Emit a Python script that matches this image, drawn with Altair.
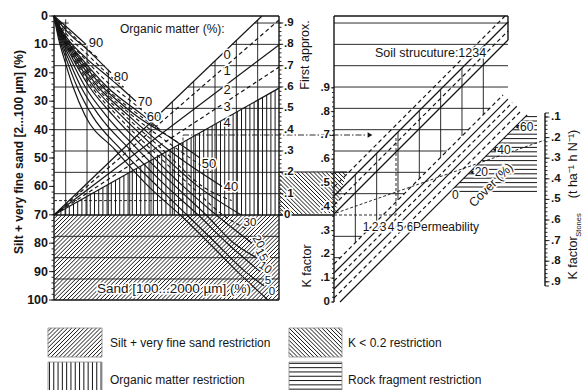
import math
import numpy as np
import pandas as pd
import altair as alt

SILT_TICKS = [0, 10, 20, 30, 40, 50, 60, 70, 80, 90, 100]
FIRST_APPROX_TICKS = [0.0, 0.1, 0.2, 0.3, 0.4, 0.5, 0.6, 0.7, 0.8, 0.9]
K_TICKS = [0.0, 0.1, 0.2, 0.3, 0.4, 0.5, 0.6, 0.7, 0.8, 0.9]
K_STONES_TICKS = [0.1, 0.2, 0.3, 0.4, 0.5, 0.6, 0.7, 0.8, 0.9]
COVER_TICKS = [0, 20, 40, 60]
OM_CLASSES = [0, 1, 2, 3, 4]
OM_END_U = [92.4, 100.0, 100.0, 100.0, 100.0]       # where each organic-matter line leaves the panel
OM_END_SILT = [0.0, 1.4, 10.2, 18.0, 25.4]
STRUCTURE_CLASSES = [1, 2, 3, 4]
PERMEABILITY_CLASSES = [1, 2, 3, 4, 5, 6]
SAND_LABELLED = [90, 80, 70, 60, 50, 40, 30, 20, 15, 10, 5, 0]

# sand curves: horizontal position (0..100 across the left panel) versus silt + vfs (%)
SAND_U = {
    90: [0, 6.5, 14.2],
    85: [0, 6.5, 12.5, 19.8],
    80: [0, 6.5, 15, 25.3],
    75: [0, 6.2, 14.8, 22, 30.9],
    70: [0, 6, 14.5, 25, 36.4],
    65: [0, 5.7, 13.6, 24, 35, 41.8],
    60: [0, 5.3, 12.3, 23.6, 39.6, 47.1],
    55: [0, 5.1, 11.8, 22.6, 38, 46.7, 56],
    50: [0, 4.9, 11.3, 21.7, 36.4, 52, 64.9],
    45: [0, 4.6, 10.8, 20.7, 34.7, 51.5, 69.8],
    40: [0, 4.4, 10.3, 19.7, 33, 51, 74.7],
    35: [0, 4.2, 9.8, 18.8, 31.4, 48.5, 66, 79],
    30: [0, 4, 9.3, 17.8, 29.8, 46, 64, 83.1],
    25: [0, 3.8, 8.8, 16.8, 28, 43.5, 61, 75, 85.6],
    20: [0, 3.6, 8.3, 15.8, 26.2, 41, 57.5, 72, 88],
    15: [0, 3.2, 7.3, 13.9, 23.1, 37.5, 54, 67.5, 80, 89.8],
    10: [0, 2.8, 6.3, 12, 20, 34, 50, 64, 77, 91.6],
    5: [0, 2.4, 5.4, 10.3, 16.9, 30, 46, 59, 72, 85, 93.3],
    0: [0, 2, 4.5, 8.5, 13.8, 27, 42, 56, 69, 81.5, 95.1],
}
SAND_SILT = {
    90: [0, 4.5, 10],
    85: [0, 5.3, 10, 15],
    80: [0, 6, 12, 20],
    75: [0, 7, 13.5, 19, 25],
    70: [0, 8, 15, 22, 30],
    65: [0, 8, 15, 23.5, 30.5, 35],
    60: [0, 8, 15, 25, 35, 40],
    55: [0, 8, 15, 25, 35, 40, 45],
    50: [0, 8, 15, 25, 35, 43, 50],
    45: [0, 8, 15, 25, 35, 45, 55],
    40: [0, 8, 15, 25, 35, 47.2, 60],
    35: [0, 8, 15, 25, 35, 47.2, 60, 65],
    30: [0, 8, 15, 25, 35, 47.2, 60, 70],
    25: [0, 8, 15, 25, 35, 47.2, 60, 70, 75],
    20: [0, 8, 15, 25, 35, 47.2, 60, 70, 80],
    15: [0, 8, 15, 25, 35, 47.2, 60, 70, 80, 85],
    10: [0, 8, 15, 25, 35, 47.2, 60, 70, 80, 90],
    5: [0, 8, 15, 25, 35, 47.2, 60, 70, 80, 90, 95],
    0: [0, 8, 15, 25, 35, 47, 60, 70, 80, 90, 100],
}

# ================= layout of the printed sheet (pixels) =================
LEFT, RIGHT, TOP, BOTTOM = 54.0, 279.0, 16.0, 300.0
def U(px): return (px - LEFT) / (RIGHT - LEFT) * 100.0
def S(py): return (py - TOP) / (BOTTOM - TOP) * 100.0
def PX(u): return LEFT + u * (RIGHT - LEFT) / 100.0
def PY(s): return TOP + s * (BOTTOM - TOP) / 100.0
def fa_py(v): return 215.0 - 213.3 * v
def k_py(v): return 302.0 - 238.0 * v
def ks_py(v): return 117.0 + 206.0 * (v - 0.1)
def cover_py(v): return 195.0 - 1.133 * v

KAX, BOXR, STAX = 334.0, 508.0, 545.0
STRUCT_OFFSET = {1: 521, 2: 530, 3: 539, 4: 548}
PERM_OFFSET = {1: 598, 2: 607, 3: 615, 4: 623, 5: 632, 6: 642}
GRID = 21.33

XS = alt.Scale(domain=[U(0), U(588)], nice=False, zero=False)
YS = alt.Scale(domain=[S(0), S(390)], nice=False, zero=False, reverse=True)
FONT = "Liberation Sans, Arial, Helvetica, sans-serif"
INK = "#151515"

STYLES = {
    "hatch": dict(w=1.0, color=INK),
    "grid": dict(w=0.9, color=INK),
    "tick": dict(w=0.9, color=INK),
    "legendbox": dict(w=0.8, color="#8a8a8a"),
    "solid": dict(w=1.2, color=INK),
    "frame": dict(w=1.4, color=INK),
    "dash": dict(w=1.2, color=INK, dash=[4, 3]),
    "path": dict(w=0.9, color=INK, dash=[3, 2]),
    "dashdot": dict(w=0.9, color=INK, dash=[6, 2, 1.5, 2]),
}
segs = {k: [] for k in STYLES}
def add(kind, x1, y1, x2, y2):
    segs[kind].append(dict(x1=U(x1), y1=S(y1), x2=U(x2), y2=S(y2)))

def clip(poly, n, c):
    pts = []
    m = len(poly)
    for i in range(m):
        (ax, ay), (bx, by) = poly[i], poly[(i + 1) % m]
        da = n[0] * ax + n[1] * ay - c
        db = n[0] * bx + n[1] * by - c
        if abs(da) < 1e-9:
            pts.append((ax, ay))
        elif da * db < 0:
            t = da / (da - db)
            pts.append((ax + t * (bx - ax), ay + t * (by - ay)))
    if len(pts) < 2:
        return None
    d = (-n[1], n[0])
    pts.sort(key=lambda p: p[0] * d[0] + p[1] * d[1])
    a, b = pts[0], pts[-1]
    if math.hypot(b[0] - a[0], b[1] - a[1]) < 0.6:
        return None
    return a, b

def hatch(kind, poly, n, gap):
    L = math.hypot(*n)
    n = (n[0] / L, n[1] / L)
    vals = [n[0] * x + n[1] * y for x, y in poly]
    c = math.floor(min(vals) / gap) * gap + gap * 0.5
    while c < max(vals):
        r = clip(poly, n, c)
        if r:
            add(kind, r[0][0], r[0][1], r[1][0], r[1][1])
        c += gap

# ---------- hatched restriction zones ----------
hatch("hatch", [(LEFT, 215), (RIGHT, 215), (RIGHT, BOTTOM), (LEFT, BOTTOM)], (1, 1), 2.9)
om4_py = PY(OM_END_SILT[4])
hatch("hatch", [(LEFT, 215), (RIGHT, om4_py), (RIGHT, 215)], (1, 0), 4.2)
hatch("hatch", [(RIGHT, 172), (347, 172), (335, 213), (RIGHT, 215)], (1, -1), 2.9)
hatch("hatch", [(449, 193), (537, 193), (537, 115), (527, 115)], (0, 1), 4.4)

# ---------- left panel grid ----------
END_U = [4.0] + [SAND_U[s][-1] for s in [90, 80, 70, 60, 50, 40, 30]]
END_S = [0.0] + [SAND_SILT[s][-1] for s in [90, 80, 70, 60, 50, 40, 30]]
x_om0 = PX(OM_END_U[0])
def line0_x(py): return LEFT + (215 - py) / (215 - TOP) * (x_om0 - LEFT)
def line0_y(px): return 215 - (px - LEFT) / (x_om0 - LEFT) * (215 - TOP)

for v in [-0.3, -0.2, -0.1, 0.1, 0.2, 0.3, 0.4, 0.5, 0.6, 0.7, 0.8, 0.9]:
    py = fa_py(v)
    if py > 215:
        add("grid", LEFT, py, RIGHT, py)
        continue
    xe = PX(np.interp(S(py), END_S, END_U))
    x0 = line0_x(py)
    if xe >= x0:
        add("grid", LEFT, py, RIGHT, py)
    else:
        add("grid", LEFT, py, xe, py)
        add("grid", x0, py, RIGHT, py)
for k in range(1, 11):
    px = RIGHT - GRID * k
    ys = min(PY(np.interp(U(px), END_U, END_S)), line0_y(px))
    add("grid", px, ys, px, 215)

# ---------- right panel grid ----------
for v in [0.9, 0.8, 0.7, 0.6, 0.5, 0.4, 0.3, 0.2, 0.1, -0.1, -0.2]:
    py = fa_py(v)
    xr = min(BOXR, PERM_OFFSET[1] - py)
    if xr > KAX + 1:
        add("grid", KAX, py, xr, py)
for k in range(1, 8):
    px = KAX + GRID * k
    add("grid", px, STRUCT_OFFSET[2] - px, px, PERM_OFFSET[1] - px)

# ---------- frames and axes ----------
add("frame", LEFT, TOP, RIGHT, TOP)
add("frame", LEFT, TOP, LEFT, BOTTOM)
add("frame", RIGHT, TOP, RIGHT, BOTTOM)
add("frame", LEFT, BOTTOM, RIGHT, BOTTOM)
add("frame", LEFT, 215, RIGHT, 215)
add("frame", KAX, TOP, BOXR, TOP)
add("frame", KAX, TOP, KAX, k_py(0))
add("frame", BOXR, TOP, BOXR, 40)
add("solid", RIGHT, 172, 347, 172)
add("frame", RIGHT, 215, KAX, 215)
add("frame", STAX, 113, STAX, 286)
add("tick", STAX, 113, STAX + 4, 113)
add("tick", STAX, 286, STAX + 4, 286)

for v in SILT_TICKS:
    add("tick", LEFT - 5, PY(v), LEFT, PY(v))
for v in range(0, 101, 2):
    add("tick", LEFT - 2.5, PY(v), LEFT, PY(v))
for v in FIRST_APPROX_TICKS:
    add("tick", RIGHT, fa_py(v), RIGHT + 4.5, fa_py(v))
for i in range(0, 46):
    add("tick", RIGHT, fa_py(i * 0.02), RIGHT + 2.5, fa_py(i * 0.02))
for v in K_TICKS:
    add("tick", KAX - 4, k_py(v), KAX, k_py(v))
for i in range(0, 46):
    add("tick", KAX - 2, k_py(i * 0.02), KAX, k_py(i * 0.02))
for v in K_STONES_TICKS:
    add("tick", STAX, ks_py(v), STAX + 4.5, ks_py(v))
for i in range(5, 46):
    add("tick", STAX, ks_py(i * 0.02), STAX + 2.5, ks_py(i * 0.02))

# ---------- organic matter lines ----------
for om, eu, es in zip(OM_CLASSES, OM_END_U, OM_END_SILT):
    add("solid" if om % 2 == 0 else "dash", LEFT, 215, PX(eu), PY(es))

# ---------- structure and permeability bands ----------
for cls in STRUCTURE_CLASSES:
    c = STRUCT_OFFSET[cls]
    end = (c - TOP, TOP) if c - TOP <= BOXR else (BOXR, c - BOXR)
    add("dash" if cls % 2 == 1 else "solid", KAX, c - KAX, end[0], end[1])
for cls in PERMEABILITY_CLASSES:
    c = PERM_OFFSET[cls]
    start = (KAX, c - KAX) if c - KAX <= k_py(0) else (c - k_py(0), k_py(0))
    ye = 95 + (c - PERM_OFFSET[1]) * 0.45
    add("dash" if cls % 2 == 1 else "solid", start[0], start[1], c - ye, ye)

# ---------- worked example ----------
add("path", LEFT, PY(65), 183, PY(65))
add("path", 183, PY(65), 183, 135)
add("dashdot", 183, 135, 367, 135)
add("path", 396, 138, 396, 215)
add("path", KAX, 215, 396, 215)
add("path", 336, 213, STAX, 140)

# ---------- legend swatches ----------
SW = {
    "silt": (48, 328, 102, 357, (1, 1), 2.9),
    "om": (48, 362, 102, 392, (1, 0), 4.3),
    "k": (289, 328, 342, 357, (1, -1), 2.9),
    "rock": (289, 362, 342, 392, (0, 1), 4.3),
}
for x1, y1, x2, y2, n, gap in SW.values():
    hatch("hatch", [(x1, y1), (x2, y1), (x2, y2), (x1, y2)], n, gap)
    add("legendbox", x1, y1, x2, y1)
    add("legendbox", x1, y2, x2, y2)
    add("legendbox", x1, y1, x1, y2)
    add("legendbox", x2, y1, x2, y2)

# ================= chart layers =================
def XQ(f): return alt.X(f + ":Q", scale=XS, axis=None)
def YQ(f): return alt.Y(f + ":Q", scale=YS, axis=None)

layers = []
for kind in ["hatch", "grid", "tick", "legendbox", "solid", "frame", "dash", "path", "dashdot"]:
    st = STYLES[kind]
    df = pd.DataFrame(segs[kind])
    mk = dict(color=st["color"], strokeWidth=st["w"])
    if "dash" in st:
        mk["strokeDash"] = st["dash"]
    layers.append(alt.Chart(df).mark_rule(**mk).encode(x=XQ("x1"), y=YQ("y1"), x2="x2:Q", y2="y2:Q"))

rows = []
for sand in SAND_U:
    for i, (u, s) in enumerate(zip(SAND_U[sand], SAND_SILT[sand])):
        rows.append(dict(curve=sand, i=i, u=u, s=s, labelled=sand in SAND_LABELLED))
curves = pd.DataFrame(rows)
layers.append(alt.Chart(curves[curves.labelled]).mark_line(interpolate="monotone", color=INK, strokeWidth=1.2)
              .encode(x=XQ("u"), y=YQ("s"), detail="curve:N", order="i:Q"))
layers.append(alt.Chart(curves[~curves.labelled]).mark_line(interpolate="monotone", color=INK, strokeWidth=1.1, strokeDash=[4, 3])
              .encode(x=XQ("u"), y=YQ("s"), detail="curve:N", order="i:Q"))

# arrow heads
arrows_r = pd.DataFrame([dict(x=U(370), y=S(135))])
layers.append(alt.Chart(arrows_r).mark_point(shape="triangle-right", filled=True, color=INK, size=30, opacity=1)
              .encode(x=XQ("x"), y=YQ("y")))
arrows_l = pd.DataFrame([dict(x=U(PERM_OFFSET[6] - cover_py(c) + 2), y=S(cover_py(c))) for c in COVER_TICKS if c > 0])
layers.append(alt.Chart(arrows_l).mark_point(shape="triangle-left", filled=True, color=INK, size=16, opacity=1)
              .encode(x=XQ("x"), y=YQ("y")))

def tl(items, size, weight="normal", align="center", angle=0, halo=False):
    df = pd.DataFrame([dict(x=U(x), y=S(y), t=t) for x, y, t in items])
    kw = dict(font=FONT, fontSize=size, fontWeight=weight, align=align, baseline="middle", angle=angle)
    enc = dict(x=XQ("x"), y=YQ("y"), text="t:N")
    out = []
    if halo:
        out.append(alt.Chart(df).mark_text(color="white", stroke="white", strokeWidth=3, **kw).encode(**enc))
    out.append(alt.Chart(df).mark_text(color=INK, **kw).encode(**enc))
    return out

def lab(v):
    return "0" if v == 0 else "." + str(int(round(v * 10)))

texts = []
texts += tl([(LEFT - 6, PY(v), str(v)) for v in SILT_TICKS], 12.5, "bold", "right")
texts += tl([(284, fa_py(v), lab(v)) for v in FIRST_APPROX_TICKS], 11.5, "bold", "left", halo=True)
texts += tl([(KAX - 4, k_py(v), lab(v)) for v in K_TICKS], 11.5, "bold", "right", halo=True)
texts += tl([(551, ks_py(v), lab(v)) for v in K_STONES_TICKS], 11.5, "bold", "left")
texts += tl([(19, 152, "Silt + very fine sand [2...100 µm] (%)")], 12, "bold", "center", 270)
texts += tl([(305, 55, "First approx."), (307, 266, "K factor"),
             (573, 258, "K factor"), (573, 164, "(t ha⁻¹ h N⁻¹)")], 12.5, "normal", "center", 270)
texts += tl([(579, 225, "Stones")], 7.5, "normal", "center", 270)
texts += tl([(120, 29, "Organic matter (%):")], 12, "normal", "left")
texts += tl([(375, 53, "Soil strucuture:1234")], 12.5, "normal", "left", halo=True)

om_labels = []
for om, eu, es in zip(OM_CLASSES, OM_END_U, OM_END_SILT):
    t = (227 - LEFT) / (PX(eu) - LEFT)
    om_labels.append((227, 215 + t * (PY(es) - 215) + 6, str(om)))
texts += tl(om_labels, 13, halo=True)

SAND_LABEL_PX = {90: (96, 43), 80: (121, 77), 70: (145, 102), 60: (154, 117), 50: (209, 164),
                 40: (231, 187), 30: (250, 223), 20: (258, 242), 15: (261, 255), 10: (265, 268),
                 5: (268, 281), 0: (272, 292)}
texts += tl([(SAND_LABEL_PX[s][0], SAND_LABEL_PX[s][1], str(s)) for s in [90, 80, 70, 60, 50, 40]], 13, halo=True)
texts += tl([(SAND_LABEL_PX[s][0], SAND_LABEL_PX[s][1], str(s)) for s in [30, 5, 0]], 11.5, halo=True)
texts += tl([(SAND_LABEL_PX[s][0], SAND_LABEL_PX[s][1], str(s)) for s in [20, 15]], 11.5, angle=60, halo=True)
texts += tl([(SAND_LABEL_PX[10][0], SAND_LABEL_PX[10][1], "10")], 11.5, angle=35, halo=True)
texts += tl([(97, 289, "Sand [100...2000 µm] (%)")], 13.5, "normal", "left", halo=True)

perm = [(PERM_OFFSET[c] - 227 - 5, 227, str(c)) for c in PERMEABILITY_CLASSES]
texts += tl(perm, 12, halo=True)
texts += tl([(413, 227, "Permeability")], 12, "normal", "left", halo=True)
texts += tl([(PERM_OFFSET[6] - cover_py(c) + 5, cover_py(c), str(c)) for c in COVER_TICKS], 12, "normal", "left", halo=True)
texts += tl([(491, 185, "Cover (%)")], 12.5, "normal", "center", 315, halo=True)

texts += tl([(110, 343, "Silt + very fine sand restriction"), (110, 380, "Organic matter restriction"),
             (348, 343, "K < 0.2 restriction"), (348, 380, "Rock fragment restriction")], 12, "normal", "left")

chart = alt.layer(*layers, *texts).properties(
    width=588, height=390, padding=0, autosize=alt.AutoSizeParams(type="none"), background="white"
).configure_view(stroke=None)

chart.save("out.html", embed_options={"renderer": "svg", "actions": False})
